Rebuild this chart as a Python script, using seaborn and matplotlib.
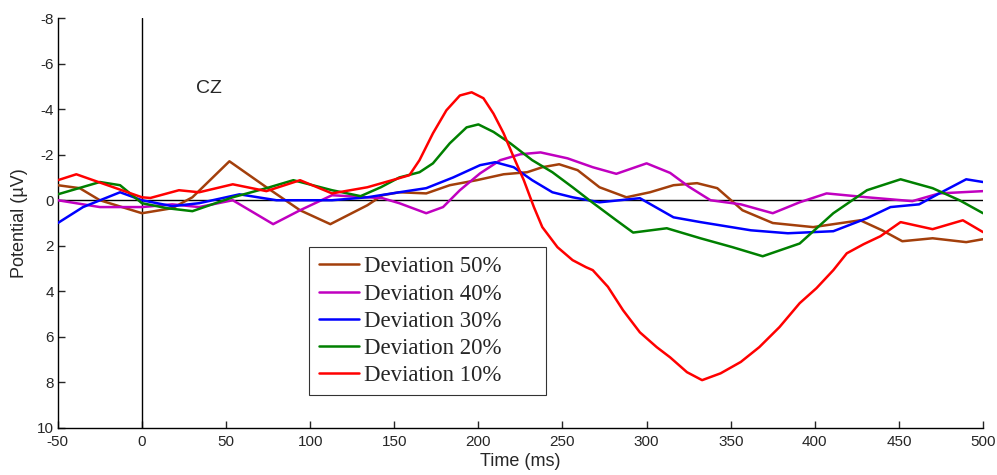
import pandas as pd
import seaborn as sns
import matplotlib.pyplot as plt

# ERP at CZ, values in microvolts (negative plotted upward)
t_50 = [-50, -37, -25, 0, 18, 30, 52, 74, 94, 112, 134, 143, 153, 169, 183, 199, 215, 229, 238, 248,
        259, 272, 288, 302, 316, 330, 342, 357, 375, 399, 427, 440, 452, 470, 490, 500]
v_50 = [-0.66, -0.53, 0.0, 0.57, 0.35, -0.13, -1.71, -0.57, 0.44, 1.05, 0.22, -0.22, -0.35, -0.3, -0.66,
        -0.88, -1.14, -1.23, -1.45, -1.58, -1.32, -0.57, -0.13, -0.35, -0.66, -0.75, -0.53, 0.44, 1.0,
        1.18, 0.88, 1.32, 1.8, 1.67, 1.84, 1.71]

t_40 = [-50, -25, 0, 18, 34, 54, 78, 94, 113, 143, 153, 169, 179, 189, 201, 213, 225, 237, 253, 268,
        282, 300, 314, 325, 338, 356, 375, 391, 407, 431, 458, 474, 500]
v_40 = [0.0, 0.3, 0.3, 0.18, 0.3, 0.0, 1.05, 0.44, -0.22, -0.09, 0.13, 0.57, 0.3, -0.44, -1.18, -1.76,
        -2.02, -2.1, -1.84, -1.45, -1.16, -1.62, -1.2, -0.6, 0.0, 0.18, 0.57, 0.09, -0.3, -0.13, 0.04,
        -0.3, -0.4]

t_30 = [-50, -35, -13, 0, 18, 34, 58, 80, 113, 134, 153, 169, 185, 201, 210, 221, 232, 244, 256, 272,
        296, 316, 332, 362, 384, 411, 431, 445, 462, 474, 490, 500]
v_30 = [1.0, 0.3, -0.35, 0.0, 0.26, 0.13, -0.26, 0.0, 0.0, -0.13, -0.35, -0.53, -1.0, -1.54, -1.67,
        -1.45, -0.88, -0.35, -0.13, 0.09, -0.09, 0.75, 0.96, 1.32, 1.45, 1.36, 0.79, 0.3, 0.18, -0.3,
        -0.92, -0.8]

t_20 = [-50, -25, -13, 0, 15, 30, 54, 74, 90, 113, 130, 142, 153, 165, 173, 183, 193, 200, 209, 219,
        232, 244, 256, 266, 282, 292, 312, 332, 351, 369, 391, 411, 431, 451, 470, 486, 500]
v_20 = [-0.26, -0.8, -0.66, 0.13, 0.35, 0.48, -0.13, -0.53, -0.88, -0.44, -0.18, -0.57, -1.0, -1.23,
        -1.62, -2.5, -3.2, -3.33, -3.0, -2.5, -1.76, -1.23, -0.57, 0.0, 0.88, 1.42, 1.23, 1.67, 2.06,
        2.46, 1.9, 0.57, -0.44, -0.92, -0.53, 0.0, 0.57]

t_10 = [-50, -39, 0, 5, 22, 34, 54, 74, 94, 113, 134, 153, 159, 165, 173, 181, 189, 196, 203, 209,
        215, 221, 227, 233, 238, 247, 256, 264, 268, 277, 286, 296, 306, 314, 324, 333, 344, 356, 367,
        379, 391, 401, 411, 419, 429, 439, 451, 470, 488, 500]
v_10 = [-0.88, -1.14, -0.13, -0.1, -0.44, -0.35, -0.7, -0.4, -0.88, -0.3, -0.57, -0.97, -1.1, -1.76,
        -2.94, -3.95, -4.6, -4.74, -4.48, -3.8, -2.94, -1.89, -0.88, 0.3, 1.18, 2.06, 2.63, 2.94, 3.07,
        3.8, 4.83, 5.8, 6.45, 6.9, 7.55, 7.9, 7.6, 7.1, 6.45, 5.57, 4.52, 3.86, 3.07, 2.33, 1.93, 1.58,
        0.96, 1.27, 0.88, 1.4]

labels = ['Deviation 50%', 'Deviation 40%', 'Deviation 30%', 'Deviation 20%', 'Deviation 10%']
colors = ['#a33f0b', '#c000c0', '#0000ff', '#008000', '#ff0000']
times = [t_50, t_40, t_30, t_20, t_10]
values = [v_50, v_40, v_30, v_20, v_10]

frames = []
for lab, t, v in zip(labels, times, values):
    frames.append(pd.DataFrame({'time': t, 'potential': v, 'condition': lab}))
df = pd.concat(frames, ignore_index=True)

sns.set_style('ticks')
plt.rcParams['font.family'] = ['Liberation Sans', 'DejaVu Sans']
plt.rcParams['axes.unicode_minus'] = False

fig = plt.figure(figsize=(9.97, 4.75), dpi=100)
ax = fig.add_axes([0.058, 0.099, 0.928, 0.863])

ax.axhline(0, color='black', lw=1, zorder=1)
ax.axvline(0, color='black', lw=1, zorder=1)

sns.lineplot(data=df, x='time', y='potential', hue='condition', hue_order=labels,
             palette=colors, linewidth=1.8, ax=ax, zorder=3)

ax.set_xlim(-50, 500)
ax.set_ylim(10, -8)
ax.set_xticks(range(-50, 501, 50))
ax.set_yticks(range(-8, 11, 2))
ax.tick_params(direction='in', length=5, labelsize=11, width=1)
ax.tick_params(axis='x', pad=5)
ax.tick_params(axis='y', pad=3)
sns.despine(ax=ax)
for s in ['left', 'bottom']:
    ax.spines[s].set_linewidth(1)
    ax.spines[s].set_color('black')

ax.set_xlabel('Time (ms)', fontsize=13, labelpad=3)
ax.set_ylabel('Potential (\u00b5V)', fontsize=13, labelpad=6)

ax.text(40, -4.9, 'CZ', fontsize=14, ha='center', va='center')

# matlab-style legend box, wider than its text
leg = ax.legend(loc='upper left', bbox_to_anchor=(0.272, 0.076, 0.256, 0.365), mode='expand',
                frameon=True, fancybox=False,
                prop={'family': ['Liberation Serif', 'DejaVu Serif'], 'size': 16.5},
                handlelength=1.75, handletextpad=0.25, labelspacing=0.27, borderpad=0.4,
                borderaxespad=0)
leg.get_frame().set_edgecolor('black')
leg.get_frame().set_linewidth(0.8)

plt.savefig('out.png', dpi=100)
